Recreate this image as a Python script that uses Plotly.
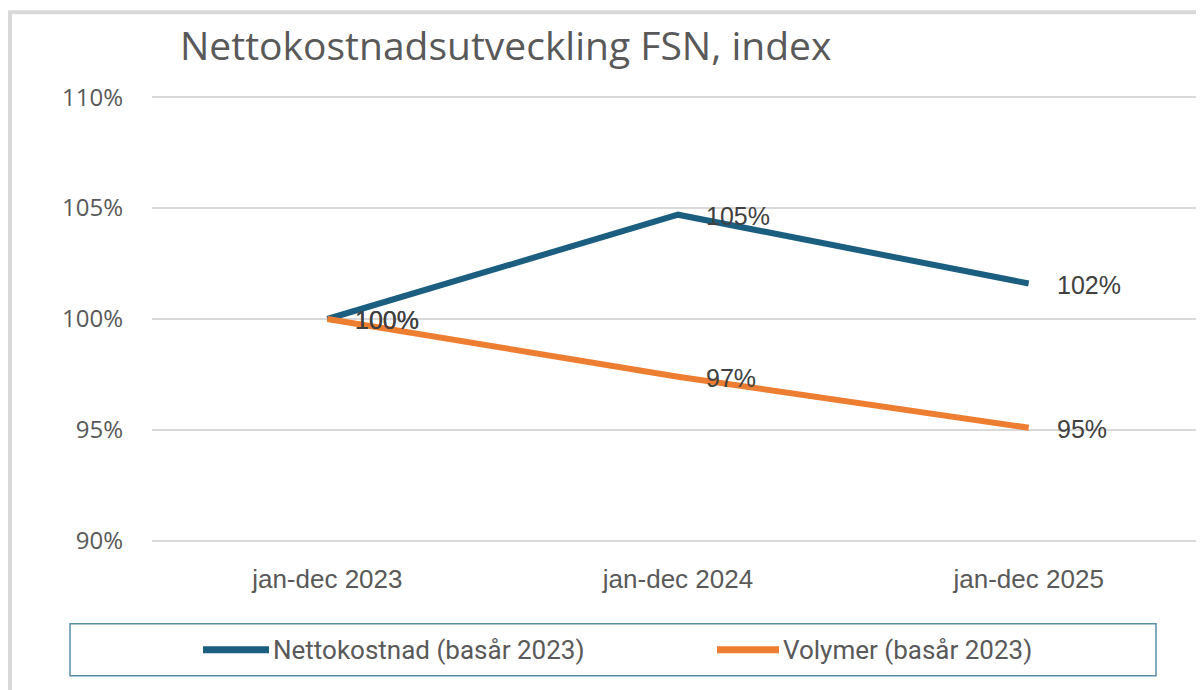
import plotly.graph_objects as go

categories = ["jan-dec 2023", "jan-dec 2024", "jan-dec 2025"]
netto = [100.0, 104.7, 101.6]
volymer = [100.0, 97.4, 95.1]
series_names = ["Nettokostnad (basår 2023)", "Volymer (basår 2023)"]
colors = ["#1B5E80", "#ED7D31"]
y_ticks = [90, 95, 100, 105, 110]
y_range = [89.5, 110.5]

OFF = 8  # page body margin
W, H = 1204 - OFF, 690 - OFF
# page px of y=110 -> 97, y=90 -> 541
unit = (541 - 97) / 20.0
PL, PR = 152, 1204
PT = 97 - (y_range[1] - 110) * unit
PB = 541 + (90 - y_range[0]) * unit
L, T = PL - OFF, PT - OFF
R = W - (PR - OFF)
B = H - (PB - OFF)
pw = PR - PL
ph = PB - PT

def px(x):
    return (x - PL) / pw

def py(y):
    return (PB - y) / ph

fig = go.Figure()
annotations = []
for vals, name, col in zip([netto, volymer], series_names, colors):
    fig.add_trace(go.Scatter(
        x=categories, y=vals, name=name, mode="lines",
        line=dict(color=col, width=6),
        showlegend=False, cliponaxis=False,
    ))
    for c, v in zip(categories, vals):
        annotations.append(dict(x=c, y=v, xref="x", yref="y", text=f"{round(v):.0f}%",
                                showarrow=False, xanchor="left", yanchor="middle",
                                xshift=26, yshift=-1,
                                font=dict(family="Liberation Sans, Arial", size=25, color="#404040")))

shapes = []
shapes.append(dict(type="rect", xref="paper", yref="paper",
                   x0=px(10), x1=px(1230), y0=py(12), y1=py(720),
                   line=dict(color="#D9D9D9", width=4), fillcolor="rgba(0,0,0,0)", layer="below"))
shapes.append(dict(type="rect", xref="paper", yref="paper",
                   x0=px(70), x1=px(1156), y0=py(624), y1=py(676),
                   line=dict(color="#5B8FA6", width=1.5), fillcolor="rgba(0,0,0,0)"))
leg_pos = [(203, 269), (717, 779)]
for (x0, x1), name, col in zip(leg_pos, series_names, colors):
    shapes.append(dict(type="line", xref="paper", yref="paper",
                       x0=px(x0), x1=px(x1), y0=py(650), y1=py(650),
                       line=dict(color=col, width=7)))
    annotations.append(dict(xref="paper", yref="paper", x=px(x1 + 2), y=py(650),
                            text=name, showarrow=False, xanchor="left", yanchor="middle",
                            font=dict(family="Roboto, Noto Sans", size=26, color="#595959")))

fig.update_layout(
    width=W, height=H,
    margin=dict(l=L, r=R, t=T, b=B, pad=0),
    paper_bgcolor="white", plot_bgcolor="white",
    title=dict(text="Nettokostnadsutveckling FSN, index", x=px(180), xref="paper",
               xanchor="left", y=1 - (46 - OFF) / H, yanchor="middle",
               font=dict(family="Open Sans", size=39, color="#595959")),
    xaxis=dict(type="category", range=[-0.5, 2.5], showgrid=False, zeroline=False,
               showline=False, ticks="", ticklabelstandoff=9,
               tickfont=dict(family="Liberation Sans, Arial", size=26, color="#595959")),
    yaxis=dict(range=y_range, tickvals=y_ticks, ticktext=[f"{v}%" for v in y_ticks],
               showgrid=True, gridcolor="#D9D9D9", gridwidth=2, zeroline=False,
               showline=False, ticks="", ticklabelstandoff=28,
               tickfont=dict(family="Open Sans", size=24, color="#595959")),
    shapes=shapes, annotations=annotations,
)
fig.write_html("out.html")
